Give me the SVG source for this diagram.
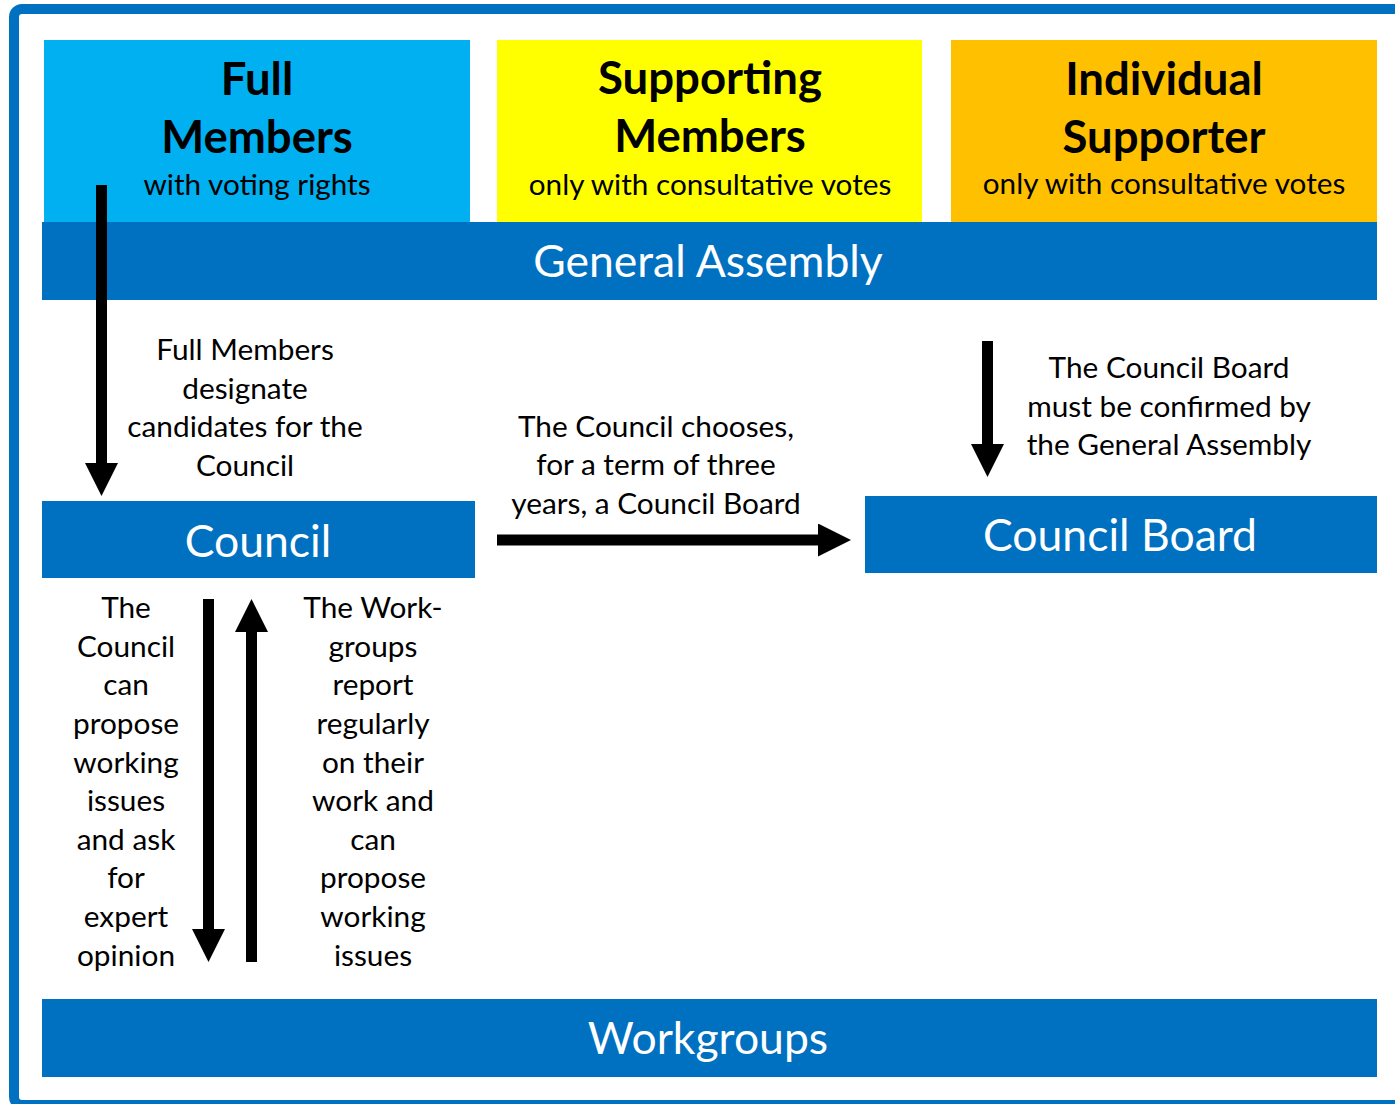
<svg xmlns="http://www.w3.org/2000/svg" width="1395" height="1104" viewBox="0 0 1395 1104">
<style>
text{font-family:Lato,"Open Sans","Liberation Sans",sans-serif;text-anchor:middle}
.h{font-weight:bold;font-size:45.5px;fill:#000}
.s{font-size:29.7px;fill:#000}
.b{font-size:29.8px;fill:#000}
.w{font-size:44.5px;fill:#fff}
.bar{fill:#0070C0}
.arr{stroke:#000;stroke-width:11;fill:none;marker-end:url(#ah)}
</style>
<defs>
<marker id="ah" markerUnits="userSpaceOnUse" markerWidth="34" markerHeight="33" viewBox="0 0 34 33" refX="0" refY="16.5" orient="auto">
<path d="M0,0 L33,16.5 L0,33 Z" fill="#000"/>
</marker>
</defs>
<rect x="0" y="0" width="1395" height="1104" fill="#fff"/>
<rect x="14" y="9" width="1400" height="1096" rx="8" fill="none" stroke="#0070C0" stroke-width="10"/>

<g id="full-members">
<rect x="44" y="40" width="426" height="182" fill="#00B0F0"/>
<text class="h" x="257" y="95">Full</text>
<text class="h" x="257" y="153">Members</text>
<text class="s" x="257" y="195">with voting rights</text>
</g>
<g id="supporting-members">
<rect x="497" y="40" width="425" height="182" fill="#FFFF00"/>
<text class="h" x="710" y="94">Supporting</text>
<text class="h" x="710" y="152">Members</text>
<text class="s" x="710" y="195">only with consultative votes</text>
</g>
<g id="individual-supporter">
<rect x="951" y="40" width="426" height="182" fill="#FFC000"/>
<text class="h" x="1164" y="95">Individual</text>
<text class="h" x="1164" y="153">Supporter</text>
<text class="s" x="1164" y="194">only with consultative votes</text>
</g>
<g id="general-assembly">
<rect class="bar" x="42" y="222" width="1335" height="78"/>
<text class="w" x="708" y="277">General Assembly</text>
</g>
<g id="council">
<rect class="bar" x="42" y="501" width="433" height="77"/>
<text class="w" x="258" y="557">Council</text>
</g>
<g id="council-board">
<rect class="bar" x="865" y="496" width="512" height="77"/>
<text class="w" x="1120" y="551">Council Board</text>
</g>
<g id="workgroups">
<rect class="bar" x="42" y="999" width="1335" height="78"/>
<text class="w" x="708" y="1054">Workgroups</text>
</g>

<g id="connectors">
<line class="arr" x1="101.5" y1="185" x2="101.5" y2="463"/>
<line class="arr" x1="497" y1="540" x2="818" y2="540"/>
<line class="arr" x1="987.5" y1="341" x2="987.5" y2="444"/>
<line class="arr" x1="208.5" y1="599" x2="208.5" y2="929"/>
<line class="arr" x1="251.5" y1="962" x2="251.5" y2="632"/>
</g>

<g id="labels">
<text class="b"><tspan x="245" y="360">Full Members</tspan><tspan x="245" y="399">designate</tspan><tspan x="245" y="437">candidates for the</tspan><tspan x="245" y="476">Council</tspan></text>
<text class="b"><tspan x="656" y="437">The Council chooses,</tspan><tspan x="656" y="475">for a term of three</tspan><tspan x="656" y="514">years, a Council Board</tspan></text>
<text class="b"><tspan x="1169" y="378">The Council Board</tspan><tspan x="1169" y="417">must be confirmed by</tspan><tspan x="1169" y="455">the General Assembly</tspan></text>
<text class="b"><tspan x="126" y="618">The</tspan><tspan x="126" y="657">Council</tspan><tspan x="126" y="695">can</tspan><tspan x="126" y="734">propose</tspan><tspan x="126" y="773">working</tspan><tspan x="126" y="811">issues</tspan><tspan x="126" y="850">and ask</tspan><tspan x="126" y="888">for</tspan><tspan x="126" y="927">expert</tspan><tspan x="126" y="966">opinion</tspan></text>
<text class="b"><tspan x="373" y="618">The Work-</tspan><tspan x="373" y="657">groups</tspan><tspan x="373" y="695">report</tspan><tspan x="373" y="734">regularly</tspan><tspan x="373" y="773">on their</tspan><tspan x="373" y="811">work and</tspan><tspan x="373" y="850">can</tspan><tspan x="373" y="888">propose</tspan><tspan x="373" y="927">working</tspan><tspan x="373" y="966">issues</tspan></text>
</g>
</svg>
